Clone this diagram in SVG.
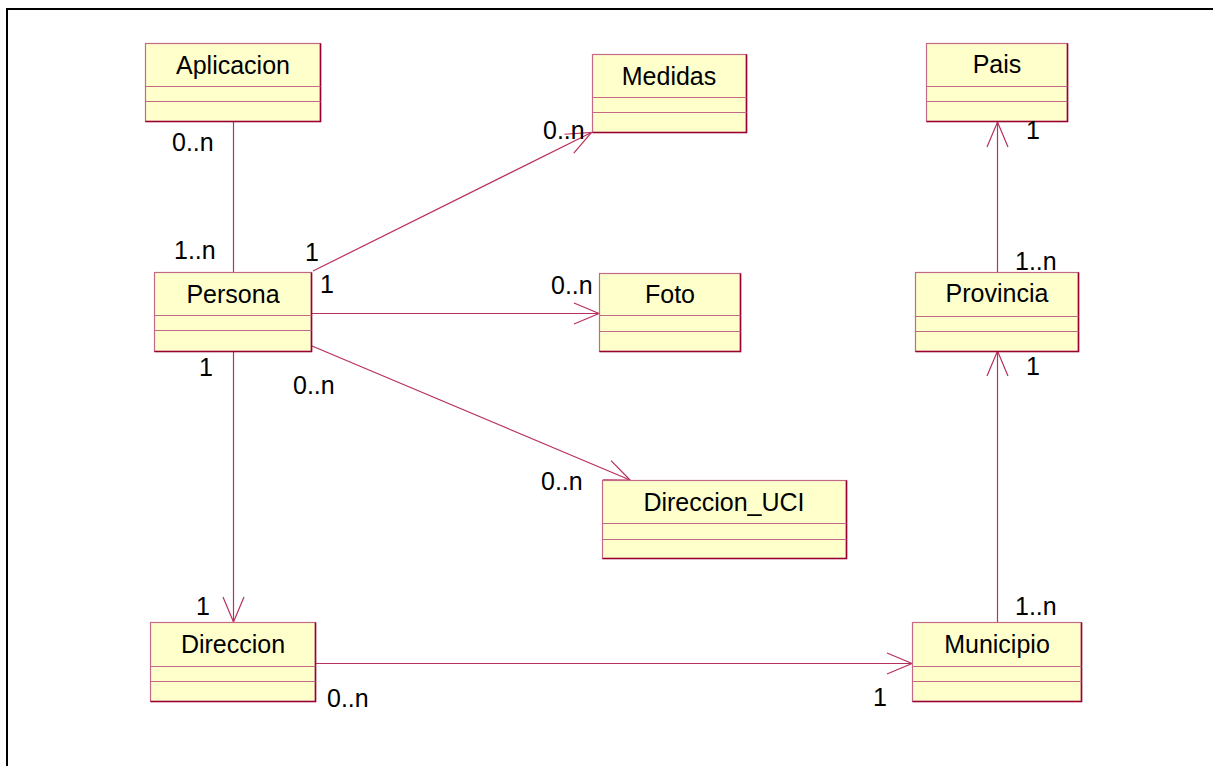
<svg xmlns="http://www.w3.org/2000/svg" width="1213" height="766" viewBox="0 0 1213 766">
  <style>
    .box { fill: #ffffcc; stroke: #c46a88; stroke-width: 1.2; }
    .shade { fill: none; stroke: #990033; stroke-width: 1.6; }
    .sep { stroke: #c46a88; stroke-width: 1.2; }
    .name { font-family: "Liberation Sans", Arial, sans-serif; font-size: 25px; fill: #000; text-anchor: middle; }
    .mult { font-family: "Liberation Sans", Arial, sans-serif; font-size: 25px; fill: #000; }
    .link { fill: none; stroke: #b8305e; stroke-width: 1.2; }
    .frame { stroke: #000; stroke-width: 2; }
  </style>
  <defs>
    <marker id="open" markerUnits="userSpaceOnUse" markerWidth="30" markerHeight="26" viewBox="-27 -13 30 26" refX="0" refY="0" orient="auto">
      <path d="M -25 -10.5 L 0 0 L -25 10.5" fill="none" stroke="#b8305e" stroke-width="1.2"/>
    </marker>
  </defs>

  <rect width="1213" height="766" fill="#fff"/>
  <!-- page frame -->
  <line class="frame" x1="6" y1="9" x2="1213" y2="9"/>
  <line class="frame" x1="7" y1="8" x2="7" y2="766"/>

  <!-- associations -->
  <g id="connectors">
    <line class="link" x1="233.5" y1="121" x2="233.5" y2="272"/>
    <line class="link" x1="313" y1="271" x2="591.5" y2="132.5" marker-end="url(#open)"/>
    <line class="link" x1="312" y1="313.5" x2="599" y2="313.5" marker-end="url(#open)"/>
    <line class="link" x1="312" y1="346" x2="630" y2="480" marker-end="url(#open)"/>
    <line class="link" x1="233.5" y1="352" x2="233.5" y2="622" marker-end="url(#open)"/>
    <line class="link" x1="315" y1="663.5" x2="912" y2="663.5" marker-end="url(#open)"/>
    <line class="link" x1="997.5" y1="622" x2="997.5" y2="351" marker-end="url(#open)"/>
    <line class="link" x1="997.5" y1="272" x2="997.5" y2="122" marker-end="url(#open)"/>
  </g>

  <!-- classes -->
  <g id="Aplicacion">
    <rect class="box" x="145.5" y="43.5" width="175" height="78"/>
    <polyline class="shade" points="145.5,121.5 320.5,121.5 320.5,43.5"/>
    <line class="sep" x1="145.5" y1="86.5" x2="320.5" y2="86.5"/>
    <line class="sep" x1="145.5" y1="101.5" x2="320.5" y2="101.5"/>
    <text class="name" x="233" y="74">Aplicacion</text>
  </g>
  <g id="Medidas">
    <rect class="box" x="592.5" y="54.5" width="154" height="78"/>
    <polyline class="shade" points="592.5,132.5 746.5,132.5 746.5,54.5"/>
    <line class="sep" x1="592.5" y1="97.5" x2="746.5" y2="97.5"/>
    <line class="sep" x1="592.5" y1="112.5" x2="746.5" y2="112.5"/>
    <text class="name" x="669" y="85">Medidas</text>
  </g>
  <g id="Pais">
    <rect class="box" x="926.5" y="43.5" width="141" height="78"/>
    <polyline class="shade" points="926.5,121.5 1067.5,121.5 1067.5,43.5"/>
    <line class="sep" x1="926.5" y1="86.5" x2="1067.5" y2="86.5"/>
    <line class="sep" x1="926.5" y1="101.5" x2="1067.5" y2="101.5"/>
    <text class="name" x="997" y="73">Pais</text>
  </g>
  <g id="Persona">
    <rect class="box" x="154.5" y="272.5" width="157" height="79"/>
    <polyline class="shade" points="154.5,351.5 311.5,351.5 311.5,272.5"/>
    <line class="sep" x1="154.5" y1="315.5" x2="311.5" y2="315.5"/>
    <line class="sep" x1="154.5" y1="330.5" x2="311.5" y2="330.5"/>
    <text class="name" x="233" y="303">Persona</text>
  </g>
  <g id="Foto">
    <rect class="box" x="599.5" y="273.5" width="141" height="78"/>
    <polyline class="shade" points="599.5,351.5 740.5,351.5 740.5,273.5"/>
    <line class="sep" x1="599.5" y1="315.5" x2="740.5" y2="315.5"/>
    <line class="sep" x1="599.5" y1="331.5" x2="740.5" y2="331.5"/>
    <text class="name" x="670" y="303">Foto</text>
  </g>
  <g id="Direccion_UCI">
    <rect class="box" x="602.5" y="480.5" width="244" height="78"/>
    <polyline class="shade" points="602.5,558.5 846.5,558.5 846.5,480.5"/>
    <line class="sep" x1="602.5" y1="523.5" x2="846.5" y2="523.5"/>
    <line class="sep" x1="602.5" y1="539.5" x2="846.5" y2="539.5"/>
    <text class="name" x="724" y="511">Direccion_UCI</text>
  </g>
  <g id="Provincia">
    <rect class="box" x="915.5" y="272.5" width="163" height="79"/>
    <polyline class="shade" points="915.5,351.5 1078.5,351.5 1078.5,272.5"/>
    <line class="sep" x1="915.5" y1="316.5" x2="1078.5" y2="316.5"/>
    <line class="sep" x1="915.5" y1="331.5" x2="1078.5" y2="331.5"/>
    <text class="name" x="997" y="302">Provincia</text>
  </g>
  <g id="Direccion">
    <rect class="box" x="150.5" y="622.5" width="165" height="79"/>
    <polyline class="shade" points="150.5,701.5 315.5,701.5 315.5,622.5"/>
    <line class="sep" x1="150.5" y1="666.5" x2="315.5" y2="666.5"/>
    <line class="sep" x1="150.5" y1="681.5" x2="315.5" y2="681.5"/>
    <text class="name" x="233" y="653">Direccion</text>
  </g>
  <g id="Municipio">
    <rect class="box" x="912.5" y="622.5" width="169" height="79"/>
    <polyline class="shade" points="912.5,701.5 1081.5,701.5 1081.5,622.5"/>
    <line class="sep" x1="912.5" y1="666.5" x2="1081.5" y2="666.5"/>
    <line class="sep" x1="912.5" y1="681.5" x2="1081.5" y2="681.5"/>
    <text class="name" x="997" y="653">Municipio</text>
  </g>

  <!-- multiplicities -->
  <g id="multiplicities">
    <text class="mult" x="172" y="151">0..n</text>
    <text class="mult" x="174" y="259">1..n</text>
    <text class="mult" x="305" y="261">1</text>
    <text class="mult" x="320" y="293">1</text>
    <text class="mult" x="199" y="376">1</text>
    <text class="mult" x="293" y="394">0..n</text>
    <text class="mult" x="543" y="139">0..n</text>
    <text class="mult" x="551" y="294">0..n</text>
    <text class="mult" x="541" y="490">0..n</text>
    <text class="mult" x="1026" y="139">1</text>
    <text class="mult" x="1015" y="270">1..n</text>
    <text class="mult" x="1026" y="375">1</text>
    <text class="mult" x="196" y="615">1</text>
    <text class="mult" x="327" y="707">0..n</text>
    <text class="mult" x="1015" y="615">1..n</text>
    <text class="mult" x="873" y="706">1</text>
  </g>
</svg>
